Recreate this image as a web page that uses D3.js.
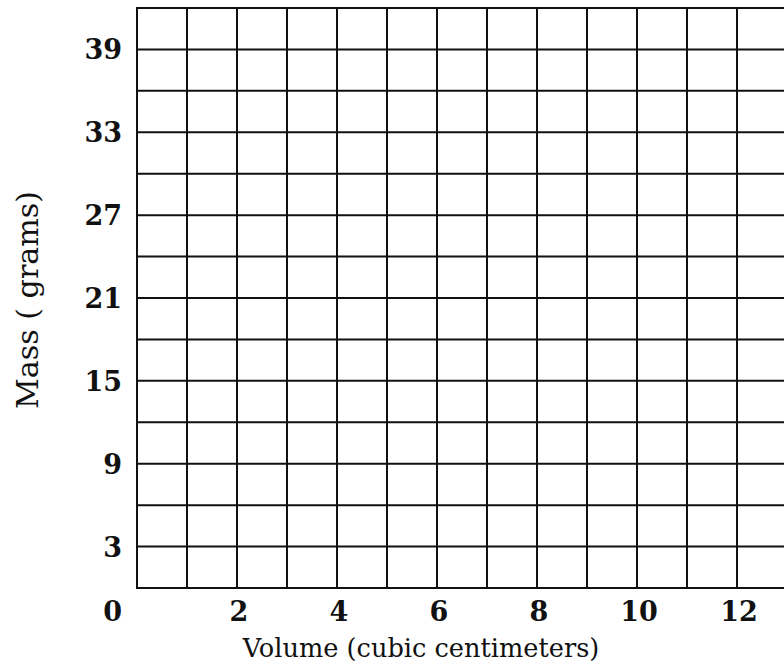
<!DOCTYPE html>
<html><head><meta charset="utf-8">
<script src="https://cdn.jsdelivr.net/npm/d3@7"></script>
<style>html,body{margin:0;padding:0;background:#fff;}svg{display:block;}</style>
</head><body>
<script>
// Data (blank graph grid)
const xGridValues = [0,1,2,3,4,5,6,7,8,9,10,11,12,13];
const yGridValues = [0,3,6,9,12,15,18,21,24,27,30,33,36,39,42];
const xTickLabels = [2,4,6,8,10,12];
const yTickLabels = [3,9,15,21,27,33,39];
const originLabel = ["0"];
const xTitle = "Volume (cubic centimeters)";
const yTitle = "Mass ( grams)";

const W = 784, H = 666;
const margin = {left:137, top:8, bottom:78};
const svg = d3.select("body").append("svg").attr("width", W).attr("height", H);

const x = d3.scaleLinear().domain([0,13]).range([margin.left, margin.left + 650]);
const y = d3.scaleLinear().domain([0,42]).range([H - margin.bottom, margin.top]);

const ink = "#111";
const g = svg.append("g");
g.selectAll("line.v").data(xGridValues).join("line")
  .attr("x1", d => x(d)).attr("x2", d => x(d))
  .attr("y1", y(0)).attr("y2", y(42))
  .attr("stroke", ink).attr("stroke-width", 2);
g.selectAll("line.h").data(yGridValues).join("line")
  .attr("y1", d => y(d)).attr("y2", d => y(d))
  .attr("x1", x(0) - 1).attr("x2", x(13))
  .attr("stroke", ink).attr("stroke-width", 2);

const font = "'DejaVu Serif', serif";
const tickSize = "27px";
svg.selectAll("text.xt").data(xTickLabels).join("text")
  .attr("x", d => x(d) + 2).attr("y", y(0) + 33)
  .attr("text-anchor", "middle")
  .style("font-family", font).style("font-weight", "bold").style("font-size", tickSize)
  .attr("fill", ink).text(d => d);
svg.selectAll("text.yt").data(yTickLabels).join("text")
  .attr("x", x(0) - 15).attr("y", d => y(d) + 10)
  .attr("text-anchor", "end")
  .style("font-family", font).style("font-weight", "bold").style("font-size", tickSize)
  .attr("fill", ink).text(d => d);
svg.selectAll("text.o").data(originLabel).join("text")
  .attr("x", x(0) - 15).attr("y", y(0) + 33)
  .attr("text-anchor", "end")
  .style("font-family", font).style("font-weight", "bold").style("font-size", tickSize)
  .attr("fill", ink).text(d => d);

function fit(sel, target){
  const len = sel.node().getComputedTextLength();
  const fs = parseFloat(sel.style("font-size"));
  sel.style("font-size", (fs * target / len) + "px");
}
const xt = svg.append("text")
  .attr("x", 421).attr("y", 657).attr("text-anchor", "middle")
  .style("font-family", font).style("font-size", "24px").attr("fill", ink).text(xTitle);
fit(xt, 357);
const yt = svg.append("text")
  .attr("transform", `translate(38,${(y(0)+y(42))/2 + 2}) rotate(-90)`)
  .attr("text-anchor", "middle")
  .style("font-family", font).style("font-size", "24px").attr("fill", ink).text(yTitle);
fit(yt, 218);
</script>
</body></html>
